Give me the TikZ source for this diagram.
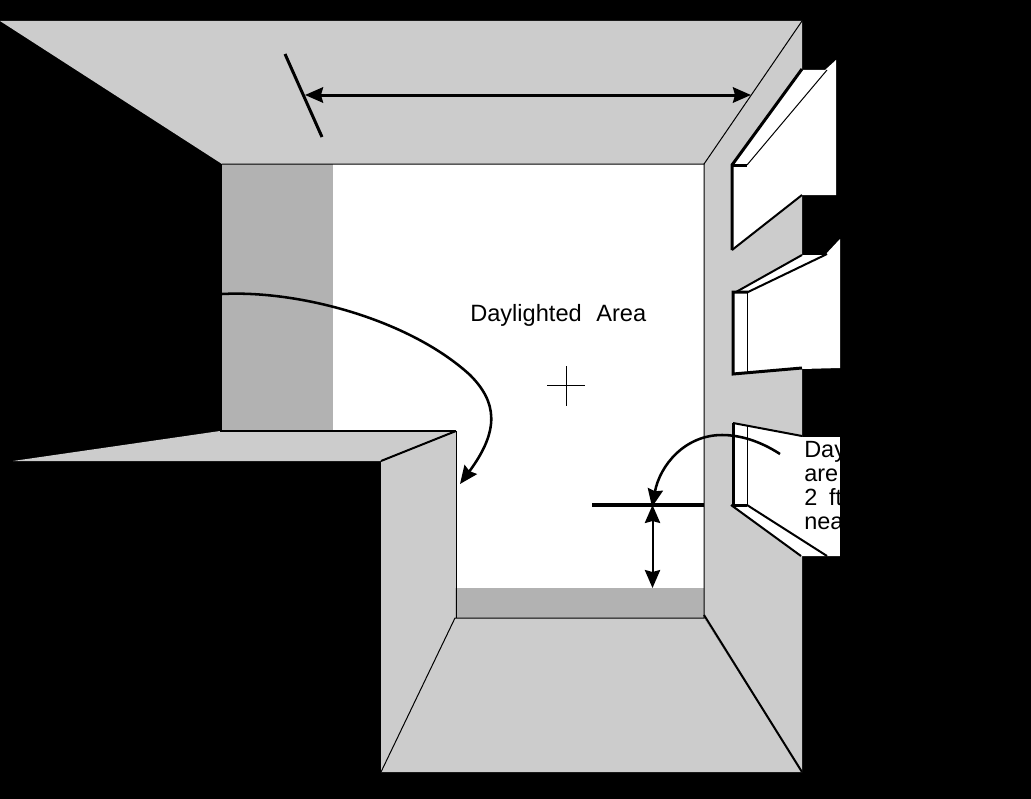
\documentclass[tikz,border=0pt]{standalone}
\usepackage{fontspec}
\setmainfont{Liberation Sans}
\usetikzlibrary{arrows.meta}
\definecolor{wallgray}{RGB}{204,204,204}
\definecolor{stripgray}{RGB}{178,178,178}
\tikzset{>={Stealth[length=13.5pt,width=11.5pt,inset=1.5pt]}}
\tikzset{thinline/.style={line width=0.75pt}, midline/.style={line width=1.5pt}, heavyline/.style={line width=2.25pt}}
\tikzset{notetext/.style={anchor=base west, inner sep=0pt, font=\fontsize{17.6pt}{18pt}\selectfont}}
\begin{document}
\begin{tikzpicture}[x=0.75pt,y=-0.75pt]
    \fill [black] (0,0) rectangle (1031,799);
    \fill [wallgray] (0,21) -- (802,21) -- (704,164) -- (222,164) -- cycle;
    \fill [wallgray] (704,164) -- (802,21) -- (802,772) -- (704,618) -- cycle;
    \fill [wallgray] (381,772) -- (455,618) -- (704,618) -- (802,772) -- cycle;
    \fill [wallgray] (381,461) -- (456,431) -- (456,618) -- (381,772) -- cycle;
    \fill [wallgray] (13,461) -- (220,431) -- (456,431) -- (381,461) -- cycle;
    \fill [white] (333,164) -- (704,164) -- (704,588) -- (456,588) -- (456,431) -- (333,431) -- cycle;
    \fill [stripgray] (222,164) rectangle (333,431);
    \fill [stripgray] (455,588) rectangle (704,618);
    \draw [thinline] (222,164) -- (704,164) -- (802,21);
    \draw [thinline] (704,164) -- (704,618) -- (455,618) -- (381,772);
    \draw [thinline] (456,431) -- (456,618);
    \draw [midline] (220,431) -- (456,431);
    \draw [midline] (381,461) -- (456,431);
    \draw [midline] (704,615) -- (802,772);
    % windows
    \fill [white] (732,166) -- (802,70) -- (825,70) -- (836,60) -- (836,195) -- (802,195) -- (732,250) -- cycle;
    \draw [thinline] (747,165) -- (827,70);
    \draw [heavyline] (802,69) -- (732,165) -- (732,250);
    \draw [midline] (732,250) -- (802,195);
    \draw [heavyline] (732,165) -- (747,165);
    \fill [white] (733,293) -- (802,255) -- (825,255) -- (840,239) -- (840,368) -- (802,369) -- (733,374) -- cycle;
    \draw [midline] (802,255) -- (736,292);
    \draw [midline] (748,292) -- (827,254);
    \draw [thinline] (747,292) -- (747,373);
    \draw [heavyline] (748,292) -- (733,292) -- (733,374) -- (802,368);
    \fill [white] (733,423) -- (802,437) -- (840,437) -- (840,556) -- (802,556) -- (733,505) -- cycle;
    \draw [thinline] (747,425) -- (747,505);
    \draw [midline] (733,423) -- (802,436);
    \draw [midline] (731,505) -- (801,556);
    \draw [midline] (747,505) -- (827,556);
    \draw [heavyline] (747,505) -- (733,505) -- (733,423);
    % labels
    \node (arealabel) [anchor=base west, inner sep=0pt, font=\fontsize{17.7pt}{20pt}\selectfont] at (470,321) {Daylighted\hspace{0.62em}Area};
    \node (noteone) [notetext] at (804,457) {Day};
    \node (notetwo) [notetext] at (804,481) {are};
    \node (notethree) [notetext] at (804,505) {2\hspace{0.5em}ft};
    \node (notefour) [notetext] at (804,529) {nea};
    \fill [black] (840,420) rectangle (1031,560);
    % marks and arrows
    \draw [thinline] (547,385) -- (585,385);
    \draw [thinline] (566,366) -- (566,406);
    \draw [heavyline] (285,54) -- (322,137);
    \coordinate (widthleft) at (305,95);
    \coordinate (widthright) at (751,95);
    \draw [<->, heavyline] (widthleft) -- (widthright);
    \coordinate (sillleft) at (592,505);
    \coordinate (sillright) at (704,505);
    \draw [line width=3pt] (sillleft) -- (sillright);
    \coordinate (heighttop) at (652.5,505);
    \coordinate (heightbottom) at (652.5,588);
    \draw [<->, midline] (heighttop) -- (heightbottom);
    \coordinate (backstart) at (222,294);
    \coordinate (backend) at (460,484);
    \draw [->, line width=1.9pt] (backstart) .. controls (300,290) and (410,320) .. (470,375) .. controls (497,402) and (500,430) .. (backend);
    \coordinate (notestart) at (780,454);
    \coordinate (noteend) at (652,507);
    \draw [->, line width=1.9pt] (notestart) .. controls (760,441) and (740,435) .. (722,435) .. controls (685,435) and (660,465) .. (noteend);
\end{tikzpicture}
\end{document}
